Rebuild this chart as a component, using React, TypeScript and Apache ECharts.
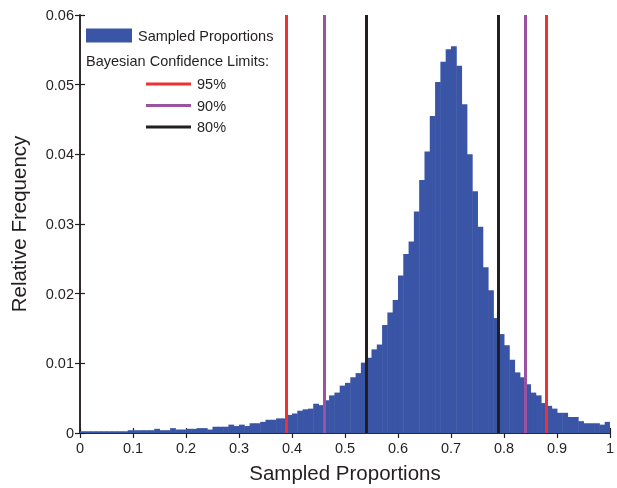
import React, { useEffect, useRef } from "react";
import * as echarts from "echarts";

// Relative frequency of each 0.01-wide bin, from 0 to 1
const binValues: number[] = [
  0.00025, 0.00025, 0.00025, 0.00025, 0.00025, 0.00025, 0.00025, 0.00025, 0.00025, 0.0004,
  0.0004, 0.0004, 0.0004, 0.0004, 0.0006, 0.0004, 0.0004, 0.0007, 0.0005, 0.0005,
  0.0006, 0.0006, 0.0007, 0.0007, 0.0005, 0.0009, 0.0009, 0.0009, 0.0012, 0.001,
  0.0012, 0.001, 0.0014, 0.0014, 0.0016, 0.0019, 0.0019, 0.0021, 0.0021, 0.0026,
  0.0028, 0.0032, 0.0034, 0.0035, 0.0042, 0.004, 0.0047, 0.0054, 0.0058, 0.0068,
  0.0072, 0.008, 0.0086, 0.0101, 0.0108, 0.012, 0.0127, 0.0155, 0.0173, 0.0191,
  0.0226, 0.0257, 0.0275, 0.0318, 0.0363, 0.0404, 0.0455, 0.0504, 0.0533, 0.0551,
  0.0555, 0.0527, 0.0472, 0.04, 0.0347, 0.0296, 0.0238, 0.0205, 0.0165, 0.0142,
  0.0126, 0.0105, 0.0087, 0.008, 0.007, 0.0058, 0.0054, 0.0043, 0.0039, 0.0035,
  0.0029, 0.0029, 0.0023, 0.0023, 0.0017, 0.0014, 0.0014, 0.0014, 0.0012, 0.0016,
];
const binStart = 0;
const binWidth = 0.01;

const limitNames = ["95%", "90%", "80%"];
const limitLower = [0.388, 0.4645, 0.536];
const limitUpper = [0.882, 0.8375, 0.7918];
const limitColors = ["#EE3131", "#9B52A0", "#231F20"];

const barName = "Sampled Proportions";
const barColor = "#3A55A5";
const legendTitle = "Bayesian Confidence Limits:";
const xName = "Sampled Proportions";
const yName = "Relative Frequency";

const FONT = "'Liberation Sans', Arial, Helvetica, sans-serif";
const INK = "#231F20";

export default function App() {
  const ref = useRef<HTMLDivElement>(null);
  useEffect(() => {
    if (!ref.current) return;
    const chart = echarts.init(ref.current, undefined, { renderer: "svg" });
    const histData = binValues.map((v, i) => [
      binStart + i * binWidth,
      binStart + (i + 1) * binWidth,
      v,
    ]);
    const axisCommon = {
      axisLine: { show: true, lineStyle: { color: INK, width: 1.5 } },
      axisTick: { show: true, inside: true, length: 5, lineStyle: { color: INK, width: 1.2 } },
      splitLine: { show: false },
    };
    const limitSeries = limitNames.map((name, i) => ({
      type: "line" as const,
      name,
      data: [] as number[][],
      symbol: "none",
      color: limitColors[i],
      itemStyle: { color: limitColors[i] },
      lineStyle: { color: limitColors[i], width: 3 },
      xAxisIndex: 0,
      yAxisIndex: 0,
      z: 5,
      markLine: {
        silent: true,
        symbol: ["none", "none"],
        label: { show: false },
        emphasis: { disabled: true },
        lineStyle: { color: limitColors[i], width: 3, type: "solid" as const },
        data: [{ xAxis: limitLower[i] }, { xAxis: limitUpper[i] }],
      },
    }));
    chart.setOption({
      animation: false,
      textStyle: { fontFamily: FONT },
      grid: { left: 79, right: 1, top: 15, bottom: 49, containLabel: false },
      xAxis: [
        {
          type: "value",
          min: 0,
          max: 1,
          interval: 0.1,
          position: "bottom",
          name: xName,
          nameLocation: "middle",
          nameGap: 29,
          nameTextStyle: { fontSize: 20.5, color: INK, fontFamily: FONT },
          axisLabel: { fontSize: 14.5, color: INK, margin: 7, fontFamily: FONT },
          ...axisCommon,
        },
        {
          type: "value",
          min: 0,
          max: 1,
          interval: 0.1,
          position: "top",
          axisLabel: { show: false },
          ...axisCommon,
        },
      ],
      yAxis: [
        {
          type: "value",
          min: 0,
          max: 0.06,
          interval: 0.01,
          position: "left",
          name: yName,
          nameLocation: "middle",
          nameGap: 51,
          nameTextStyle: { fontSize: 20.5, color: INK, fontFamily: FONT },
          axisLabel: { fontSize: 14.5, color: INK, margin: 6, fontFamily: FONT },
          ...axisCommon,
        },
        {
          type: "value",
          min: 0,
          max: 0.06,
          interval: 0.01,
          position: "right",
          axisLabel: { show: false },
          ...axisCommon,
        },
      ],
      legend: [
        {
          data: [{ name: barName, icon: "rect" }],
          left: 81,
          top: 23,
          itemWidth: 46,
          itemHeight: 14,
          itemGap: 6,
          selectedMode: false,
          textStyle: { fontSize: 14.5, color: INK, fontFamily: FONT, padding: [0, 0, 0, 1] },
        },
        {
          data: limitNames.map((n) => ({ name: n, icon: "rect" })),
          orient: "vertical",
          left: 141,
          top: 71.5,
          itemWidth: 45,
          itemHeight: 3,
          itemGap: 6.5,
          selectedMode: false,
          textStyle: { fontSize: 14.5, color: INK, fontFamily: FONT, padding: [0, 0, 0, 1] },
        },
      ],
      graphic: [
        {
          type: "text",
          left: 86,
          top: 53,
          style: { text: legendTitle, fontSize: 14.5, fill: INK, fontFamily: FONT },
        },
      ],
      series: [
        {
          type: "custom",
          name: barName,
          color: barColor,
          itemStyle: { color: barColor },
          xAxisIndex: 0,
          yAxisIndex: 0,
          clip: true,
          encode: { x: [0, 1], y: 2 },
          data: histData,
          renderItem: (_params: any, api: any) => {
            const p0 = api.coord([api.value(0), api.value(2)]);
            const p1 = api.coord([api.value(1), 0]);
            return {
              type: "rect",
              shape: { x: p0[0], y: p0[1], width: p1[0] - p0[0] + 0.5, height: p1[1] - p0[1] },
              style: { fill: barColor },
            };
          },
        },
        ...limitSeries,
      ],
    });
    return () => chart.dispose();
  }, []);
  return (
    <div
      ref={ref}
      style={{ position: "fixed", left: 0, top: 0, width: 617, height: 488 }}
    />
  );
}
